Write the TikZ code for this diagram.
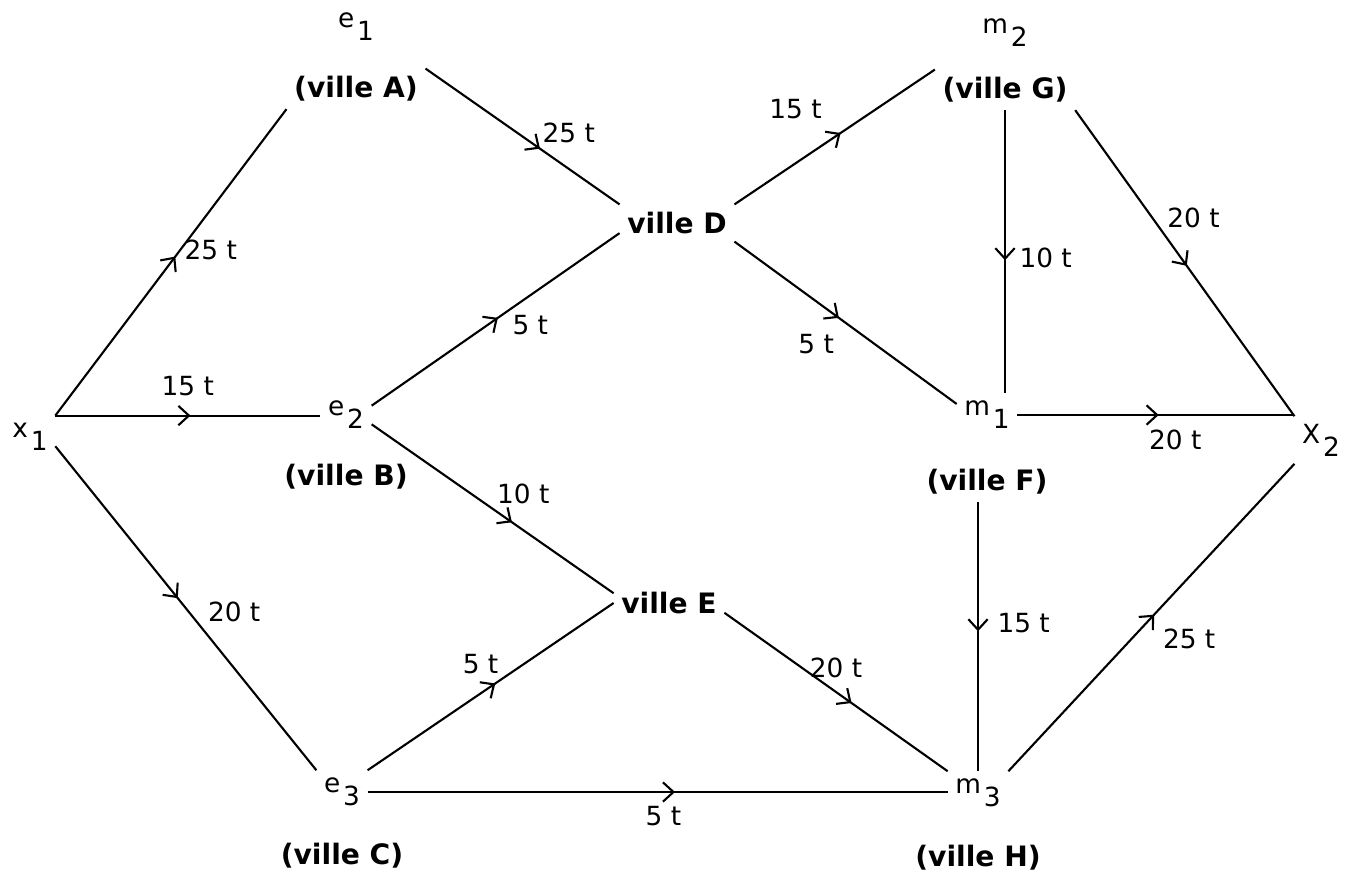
\documentclass[tikz,border=0pt]{standalone}
\usepackage{fontspec}
\setmainfont{DejaVu Sans}
\usetikzlibrary{positioning}
\usetikzlibrary{arrows.meta}
\usetikzlibrary{decorations.markings}

\newcommand{\ind}[1]{\kern0.8pt\raisebox{-0.9ex}{#1}}

\tikzset{
  vx/.style={inner sep=2pt},
  ville/.style={inner sep=2pt, font=\fontsize{8}{9.5}\selectfont\bfseries},
  qty/.style={inner sep=1pt},
  flux/.style={line width=0.6pt, postaction={decorate},
    decoration={markings, mark=at position #1 with {\arrow{Straight Barb[length=3pt,width=5.5pt]}}}}
}

\begin{document}
\begin{tikzpicture}[x=0.1mm, y=-0.1mm, font=\fontsize{7.5}{9}\selectfont]
    \useasboundingbox (0,0) rectangle (1359,874);

    \node[vx] (x1) at (30,437) {x\ind{1}};
    \node[vx] (e1) at (356,27) {e\ind{1}};
    \node[ville, below=2mm of e1] (vA) {(ville A)};
    \node[vx] (e2) at (346,415) {e\ind{2}};
    \node[ville, below=2mm of e2] (vB) {(ville B)};
    \node[vx] (e3) at (342,792) {e\ind{3}};
    \node[ville, below=2.2mm of e3] (vC) {(ville C)};
    \node[ville] (D) at (677,223) {ville D};
    \node[ville] (E) at (669,603) {ville E};
    \node[vx] (m2) at (1005,33) {m\ind{2}};
    \node[ville, below=1.5mm of m2] (vG) {(ville G)};
    \node[vx] (m1) at (987,415) {m\ind{1}};
    \node[ville, below=2.5mm of m1] (vF) {(ville F)};
    \node[vx] (m3) at (978,793) {m\ind{3}};
    \node[ville, below=2.3mm of m3] (vH) {(ville H)};
    \node[vx] (X2) at (1321,440) {X\ind{2}};

    \draw[flux=0.52] (x1.north east) -- node[qty, pos=0.54, right] {25 t} (vA.south west);
    \draw[flux=0.51] (x1.north east) -- node[qty, pos=0.5, above=1.5mm] {15 t} (x1.north east -| e2.west);
    \draw[flux=0.47] (x1.-20) -- node[qty, pos=0.51, right=1.5mm] {20 t} (e3.north west);
    \draw[flux=0.59] (vA.north east) -- node[qty, pos=0.58, above right] {25 t} (D.north west);
    \draw[flux=0.51] (e2.20) -- node[qty, pos=0.55, below right] {5 t} (D.190);
    \draw[flux=0.58] (e2.-20) -- node[qty, pos=0.5, above right] {10 t} (E.170);
    \draw[flux=0.52] (e3.north east) -- node[qty, pos=0.55, above left] {5 t} (E.west);
    \draw[flux=0.53] (e3.east) -- node[qty, pos=0.51, below=1mm] {5 t} (e3.east -| m3.west);
    \draw[flux=0.53] (D.north east) -- node[qty, pos=0.38, above=3mm, xshift=-1.5mm] {15 t} (vG.north west);
    \draw[flux=0.47] (D.south east) -- node[qty, pos=0.5, below left=1mm] {5 t} (m1.160);
    \draw[flux=0.57] (E.-10) -- node[qty, pos=0.5, above=1mm] {20 t} (m3.north west);
    \draw[flux=0.53] (vG.south) -- node[qty, pos=0.52, right=1mm] {10 t} (vG.south |- m1.north);
    \draw[flux=0.51] (vG.south east) -- node[qty, pos=0.4, above right] {20 t} (X2.north west);
    \draw[flux=0.51] (m1.east) -- node[qty, pos=0.57, below=1mm] {20 t} (m1.east -| X2.west);
    \draw[flux=0.48] (m3.north |- vF.south) -- node[qty, pos=0.45, right=1.5mm] {15 t} (m3.north);
    \draw[flux=0.51] (m3.north east) -- node[qty, pos=0.5, below right=1mm] {25 t} (X2.south west);
\end{tikzpicture}
\end{document}
